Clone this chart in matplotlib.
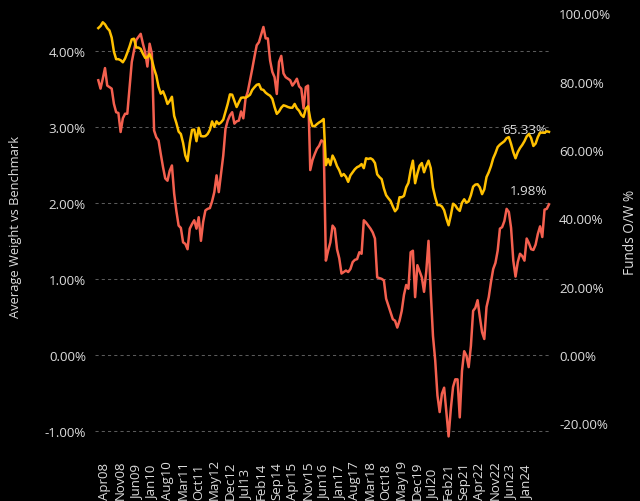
import matplotlib
matplotlib.use("Agg")
import matplotlib.pyplot as plt
import numpy as np
from matplotlib.ticker import FuncFormatter, FixedLocator

# Monthly data, Jan08 .. Nov24
avg_weight = [
    3.61, 3.50, 3.63, 3.77, 3.54, 3.52, 3.50, 3.30, 3.19, 3.18,
    2.93, 3.11, 3.17, 3.17, 3.51, 3.85, 4.00, 4.14, 4.18, 4.22,
    4.09, 3.98, 3.79, 4.09, 3.96, 2.95, 2.86, 2.82, 2.64, 2.47,
    2.32, 2.29, 2.42, 2.49, 2.12, 1.89, 1.70, 1.67, 1.48, 1.46,
    1.39, 1.66, 1.72, 1.77, 1.66, 1.81, 1.50, 1.75, 1.90, 1.92,
    1.93, 2.02, 2.14, 2.36, 2.14, 2.38, 2.62, 2.97, 3.08, 3.15,
    3.19, 3.04, 3.07, 3.08, 3.20, 3.11, 3.37, 3.46, 3.61, 3.76,
    3.92, 4.07, 4.11, 4.21, 4.31, 4.16, 4.16, 3.87, 3.72, 3.65,
    3.43, 3.85, 3.93, 3.70, 3.65, 3.63, 3.61, 3.54, 3.58, 3.63,
    3.53, 3.50, 3.24, 3.52, 3.54, 2.43, 2.56, 2.64, 2.71, 2.75,
    2.82, 2.80, 1.24, 1.37, 1.48, 1.70, 1.66, 1.39, 1.27, 1.07,
    1.09, 1.11, 1.09, 1.13, 1.22, 1.25, 1.26, 1.35, 1.33, 1.77,
    1.74, 1.70, 1.66, 1.61, 1.53, 1.02, 1.01, 1.00, 0.98, 0.74,
    0.65, 0.56, 0.47, 0.45, 0.36, 0.45, 0.58, 0.79, 0.92, 0.87,
    1.35, 1.37, 0.76, 1.18, 1.10, 1.02, 0.83, 1.10, 1.50, 0.83,
    0.25, -0.07, -0.53, -0.75, -0.51, -0.43, -0.75, -1.07, -0.71, -0.42,
    -0.32, -0.32, -0.82, -0.21, 0.05, -0.01, -0.16, 0.12, 0.58, 0.62,
    0.72, 0.50, 0.30, 0.21, 0.63, 0.76, 0.96, 1.13, 1.21, 1.37,
    1.66, 1.68, 1.76, 1.92, 1.88, 1.67, 1.24, 1.03, 1.22, 1.33,
    1.30, 1.24, 1.53, 1.47, 1.39, 1.38, 1.45, 1.59, 1.69, 1.55,
    1.91, 1.92, 1.98,
]

funds_ow = [
    95.7, 96.3, 97.4, 96.8, 95.7, 95.0, 92.9, 88.8, 86.6, 86.6,
    86.3, 85.7, 86.8, 88.5, 90.3, 92.4, 92.6, 90.0, 90.0, 89.6,
    88.2, 87.0, 87.1, 88.1, 86.5, 83.8, 81.8, 78.5, 76.5, 77.2,
    75.6, 73.5, 74.4, 75.6, 70.0, 67.9, 65.4, 64.7, 62.1, 58.4,
    56.8, 62.1, 65.9, 66.0, 62.6, 66.5, 64.1, 64.0, 64.1, 64.7,
    65.9, 68.4, 66.8, 68.4, 67.6, 68.1, 68.9, 71.2, 73.5, 76.3,
    76.2, 74.4, 72.6, 74.0, 75.3, 75.4, 75.3, 75.7, 76.2, 77.6,
    78.4, 79.1, 79.3, 77.8, 77.6, 76.8, 76.3, 75.9, 75.0, 72.6,
    70.6, 71.3, 72.4, 73.1, 72.9, 72.6, 72.4, 72.4, 73.5, 72.2,
    71.5, 70.3, 69.7, 72.1, 72.8, 69.1, 67.0, 67.0, 67.6, 68.1,
    68.5, 69.1, 55.6, 57.4, 55.6, 58.4, 57.1, 55.3, 54.1, 52.4,
    53.0, 52.2, 50.7, 52.6, 53.5, 54.4, 55.0, 55.3, 55.9, 54.7,
    57.6, 57.4, 57.6, 57.2, 56.2, 52.9, 52.1, 51.5, 48.8, 46.8,
    45.9, 45.1, 43.5, 42.1, 42.9, 46.2, 46.2, 46.6, 49.1, 50.4,
    54.1, 56.9, 50.3, 53.1, 55.4, 56.2, 53.5, 55.4, 56.9, 54.7,
    49.0, 46.2, 43.9, 43.9, 43.5, 42.4, 40.0, 38.0, 40.9, 44.3,
    43.8, 42.8, 42.2, 44.6, 45.6, 44.6, 45.0, 46.8, 49.3, 49.9,
    50.0, 49.1, 47.1, 48.5, 52.1, 53.5, 55.3, 57.6, 59.1, 60.9,
    61.6, 62.1, 62.6, 63.5, 63.8, 61.8, 59.4, 57.6, 59.4, 60.6,
    61.5, 62.6, 64.0, 64.7, 63.5, 61.2, 61.9, 63.8, 65.1, 65.1,
    65.1, 65.5, 65.33,
]

tick_labels = ["Apr08", "Nov08", "Jun09", "Jan10", "Aug10", "Mar11", "Oct11",
               "May12", "Dec12", "Jul13", "Feb14", "Sep14", "Apr15", "Nov15",
               "Jun16", "Jan17", "Aug17", "Mar18", "Oct18", "May19", "Dec19",
               "Jul20", "Feb21", "Sep21", "Apr22", "Nov22", "Jun23", "Jan24"]
first_label_index = 3
label_step = 7

left_ticks = [-1, 0, 1, 2, 3, 4]
right_ticks = [-20, 0, 20, 40, 60, 80, 100]

RED = "#F4604F"
YELLOW = "#FFC000"
TXT = "#DCDCDC"
FONT = "Open Sans"

plt.rcParams["font.family"] = [FONT, "DejaVu Sans"]

W, H = 640, 502
fig = plt.figure(figsize=(W / 100, H / 100), dpi=100, facecolor="black")
ax_l, ax_r, ax_t, ax_b = 95, 551, 12, 447
ax = fig.add_axes([ax_l / W, 1 - ax_b / H, (ax_r - ax_l) / W, (ax_b - ax_t) / H])
ax.set_facecolor("black")
ax2 = ax.twinx()

x = np.arange(len(avg_weight))
ax.plot(x, avg_weight, color=RED, lw=1.8, zorder=3, solid_joinstyle="round")
ax2.plot(np.arange(len(funds_ow)), funds_ow, color=YELLOW, lw=1.8, zorder=3,
         solid_joinstyle="round")

ax.set_xlim(-1.48, 202.9)
ax.set_ylim(-1.196, 4.52)
ax2.set_ylim(-26.6, 100.7)

ax.yaxis.set_major_locator(FixedLocator(left_ticks))
ax.yaxis.set_major_formatter(FuncFormatter(lambda v, p: f"{v:.2f}%"))
ax2.yaxis.set_major_locator(FixedLocator(right_ticks))
ax2.yaxis.set_major_formatter(FuncFormatter(lambda v, p: f"{v:.2f}%"))

ax.grid(axis="y", color="#5a5a5a", linestyle=(0, (3, 3)), lw=0.75)
ax.set_axisbelow(True)

tick_pos = [first_label_index + label_step * k for k in range(len(tick_labels))]
ax.set_xticks(tick_pos)
ax.set_xticklabels(tick_labels, rotation=90)
for lbl in ax.get_xticklabels():
    lbl.set_verticalalignment("bottom")
    lbl.set_horizontalalignment("center")
ax.tick_params(axis="x", length=0, pad=38, colors=TXT, labelsize=9.5)
ax.tick_params(axis="y", length=0, pad=6.5, colors=TXT, labelsize=9.6)
ax2.tick_params(axis="y", length=0, pad=5.8, colors=TXT, labelsize=9.6)

for a in (ax, ax2):
    for s in a.spines.values():
        s.set_visible(False)

fig.text(16 / W, 1 - 227 / H, "Average Weight vs Benchmark", rotation=90,
         ha="center", va="center", color=TXT, fontsize=9.3)
fig.text(630 / W, 1 - 232 / H, "Funds O/W %", rotation=90,
         ha="center", va="center", color=TXT, fontsize=9.8)

ax2.annotate(f"{funds_ow[-1]:.2f}%", xy=(len(funds_ow) - 1, funds_ow[-1]),
             xytext=(-1.5, 1.5), textcoords="offset points", ha="right",
             va="center", color=TXT, fontsize=9.6, zorder=1)
ax.annotate(f"{avg_weight[-1]:.2f}%", xy=(len(avg_weight) - 1, avg_weight[-1]),
            xytext=(-1.5, 5.5), textcoords="offset points", ha="right",
            va="bottom", color=TXT, fontsize=9.6, zorder=1)

fig.savefig("out.png", dpi=100, facecolor="black")
